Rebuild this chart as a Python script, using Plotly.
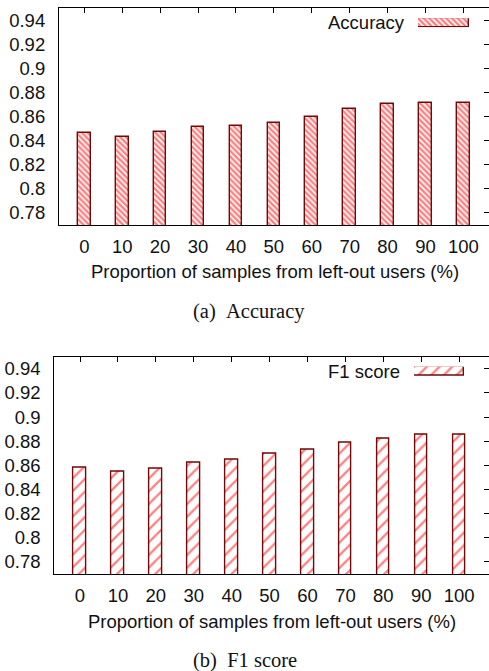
import plotly.graph_objects as go

# ---- data ----
proportions = [0, 10, 20, 30, 40, 50, 60, 70, 80, 90, 100]
tick_labels = [str(p) for p in proportions]
accuracy = [0.846, 0.843, 0.847, 0.851, 0.852, 0.855, 0.860, 0.866, 0.870, 0.871, 0.871]
f1_score = [0.858, 0.855, 0.857, 0.862, 0.865, 0.870, 0.873, 0.879, 0.882, 0.885, 0.885]
y_ticks = [0.78, 0.8, 0.82, 0.84, 0.86, 0.88, 0.9, 0.92, 0.94]
y_tick_labels = ["0.78", "0.8", "0.82", "0.84", "0.86", "0.88", "0.9", "0.92", "0.94"]
series_names = ["Accuracy", "F1 score"]
captions = ["(a)\u00a0\u00a0Accuracy", "(b)\u00a0\u00a0F1 score"]
x_title = "Proportion of samples from left-out users (%)"

W, H = 489, 671
SANS = "Liberation Sans, Arial, sans-serif"
SERIF = "Liberation Serif, Times New Roman, serif"
FS = 18.5
TXT = "#111111"
OUTLINE = "#6e0a0a"

def px(v):  # x pixel -> paper
    return v / W

def py(v):  # y pixel (from top) -> paper
    return 1 - v / H

panels = [
    dict(values=accuracy, name=series_names[0], caption=captions[0],
         left=59, top=8, bottom=225, xr=[-6.67, 106.75],
         shape="\\", psize=4, psol=0.6,
         key=(418, 469, 18.3, 27.3), keytext=(406.7, 22.8),
         xtitle_y=271.7, cap=(249, 311.7)),
    dict(values=f1_score, name=series_names[1], caption=captions[1],
         left=54.3, top=356.7, bottom=574, xr=[-6.78, 107.86],
         shape="/", psize=9, psol=0.25,
         key=(414, 464.3, 366.7, 376), keytext=(402, 371),
         xtitle_y=621.7, cap=(245, 660)),
]

fig = go.Figure()
annotations = []
ax = 1
for i, p in enumerate(panels):
    xa, ya, ya2 = ax, ax, ax + 1
    xk, yk = ax + 1, ax + 2
    xname = "x" if xa == 1 else f"x{xa}"
    yname = "y" if ya == 1 else f"y{ya}"
    pattern = dict(shape=p["shape"], fgcolor="#ff0000", bgcolor="white",
                   size=p["psize"], solidity=p["psol"], fillmode="overlay")
    fig.add_trace(go.Bar(
        x=proportions, y=p["values"], width=3.35, name=p["name"],
        marker=dict(color="white", pattern=pattern,
                    line=dict(color=OUTLINE, width=1.4)),
        xaxis=xname, yaxis=yname, showlegend=False,
    ))
    # helper y axis for right-side ticks
    fig.add_trace(go.Scatter(x=[], y=[], xaxis=xname,
                             yaxis=f"y{ya2}", showlegend=False))
    # legend key sample
    fig.add_trace(go.Bar(
        x=[1], y=[0.5], base=[0], width=[1], orientation="h",
        marker=dict(color="white", pattern=pattern,
                    line=dict(color=OUTLINE, width=1.4)),
        xaxis=f"x{xk}", yaxis=f"y{yk}", showlegend=False, cliponaxis=False,
        hoverinfo="skip",
    ))
    dom_x = [px(p["left"]), 1]
    dom_y = [py(p["bottom"]), py(p["top"])]
    xkey = "xaxis" if xa == 1 else f"xaxis{xa}"
    ykey = "yaxis" if ya == 1 else f"yaxis{ya}"
    fig.update_layout(**{
        xkey: dict(domain=dom_x, anchor=yname, range=p["xr"],
                   tickvals=proportions, ticktext=tick_labels,
                   ticks="inside", ticklen=5, tickcolor="#000", mirror="ticks",
                   showline=True, linecolor="#000", linewidth=1.2,
                   showgrid=False, zeroline=False, layer="below traces",
                   ticklabelstandoff=5,
                   tickfont=dict(family=SANS, size=FS, color=TXT)),
        ykey: dict(domain=dom_y, anchor=xname, range=[0.77, 0.95],
                   tickvals=y_ticks, ticktext=y_tick_labels, ticks="",
                   showline=True, linecolor="#000", linewidth=1.2,
                   showgrid=False, zeroline=False, ticklabelstandoff=9,
                   tickfont=dict(family=SANS, size=FS, color=TXT)),
        f"yaxis{ya2}": dict(domain=dom_y, anchor=xname, overlaying=yname,
                            side="right", range=[0.77, 0.95], tickvals=y_ticks,
                            ticks="inside", ticklen=5, tickcolor="#000",
                            showticklabels=False, showline=False,
                            showgrid=False, zeroline=False),
        f"xaxis{xk}": dict(domain=[px(p["key"][0]), px(p["key"][1])],
                           anchor=f"y{yk}", range=[0, 1], visible=False),
        f"yaxis{yk}": dict(domain=[py(p["key"][3]), py(p["key"][2])],
                           anchor=f"x{xk}", range=[0, 1], visible=False),
    })
    annotations.append(dict(text=p["name"], xref="paper", yref="paper",
                            x=px(p["keytext"][0]), y=py(p["keytext"][1]),
                            xanchor="right", yanchor="middle", showarrow=False,
                            font=dict(family=SANS, size=FS, color=TXT)))
    annotations.append(dict(text=x_title, xref="paper", yref="paper",
                            x=(px(p["left"]) + px(490.5)) / 2, y=py(p["xtitle_y"]),
                            xanchor="center", yanchor="middle", showarrow=False,
                            font=dict(family=SANS, size=FS, color=TXT)))
    annotations.append(dict(text=p["caption"], xref="paper", yref="paper",
                            x=px(p["cap"][0]), y=py(p["cap"][1]),
                            xanchor="center", yanchor="middle", showarrow=False,
                            font=dict(family=SERIF, size=20.5, color=TXT)))
    ax += 3

fig.update_layout(width=W, height=H, margin=dict(l=0, r=0, t=0, b=0),
                  paper_bgcolor="white", plot_bgcolor="white",
                  annotations=annotations, bargap=0, hovermode=False)
fig.write_html("out.html", config={"displayModeBar": False},
               post_script="document.body.style.margin='0';"
                           "document.body.style.overflow='hidden';")
